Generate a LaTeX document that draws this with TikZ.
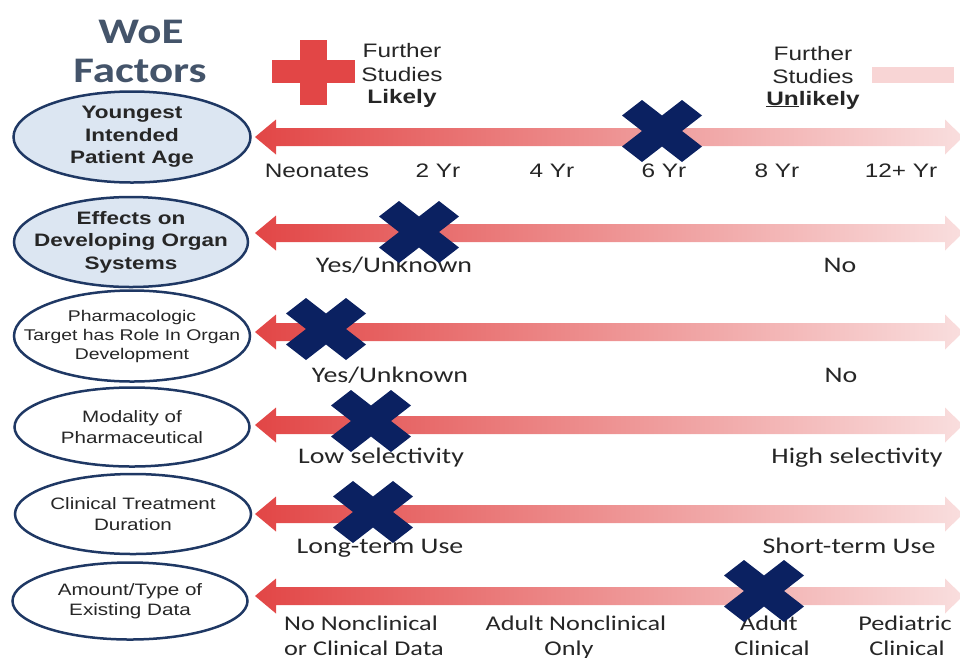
\documentclass[tikz,border=0pt]{standalone}
\usepackage{fontspec}
\setmainfont{Liberation Sans}[FakeStretch=1.25]
\newfontfamily\calib{Carlito}[FakeStretch=1.25]
\usetikzlibrary{shapes.geometric}

\definecolor{navy}{HTML}{1F3864}
\definecolor{crossblue}{HTML}{0B2161}
\definecolor{paleblue}{HTML}{DCE6F2}
\definecolor{arrowred}{HTML}{E24646}
\definecolor{arrowpale}{HTML}{F9DEDE}
\definecolor{legendpale}{HTML}{F8D5D5}
\definecolor{titlegray}{HTML}{44546A}
\definecolor{ink}{HTML}{262626}

\tikzset{
  factor/.style={ellipse, draw=navy, line width=2.5pt, inner sep=0pt},
  keyfactor/.style={factor, fill=paleblue},
  minorfactor/.style={factor, fill=white},
  keytext/.style={align=center, inner sep=0pt, text=ink,
    font=\fontsize{18}{22.5}\selectfont\bfseries},
  minortext/.style={align=center, inner sep=0pt, text=ink,
    font=\fontsize{16.5}{20.5}\selectfont},
  agelabel/.style={anchor=base, inner sep=0pt, text=ink,
    font=\fontsize{19.5}{23}\selectfont},
  scalelabel/.style={anchor=base, inner sep=0pt, text=ink,
    font=\calib\fontsize{22.3}{26}\selectfont},
  datalabel/.style={scalelabel, font=\calib\fontsize{21}{25}\selectfont},
  legendtext/.style={anchor=base, inner sep=0pt, text=ink,
    font=\fontsize{19.5}{23.5}\selectfont},
  % double-headed scale arrow, red on the left fading to pale on the right
  gradarrow/.pic={
    \shade[left color=arrowred, right color=arrowpale]
      (255,0) -- (276,-17.5) -- (276,-9) -- (945,-9) -- (945,-17.5)
      -- (963,0) -- (945,17.5) -- (945,9) -- (276,9) -- (276,17.5) -- cycle;
  },
  % position marker on a scale
  xcross/.pic={
    \fill[crossblue, xscale=40, yscale=31]
      (0,0.5) -- (0.5,1) -- (1,0.5) -- (0.5,0) -- (1,-0.5) -- (0.5,-1)
      -- (0,-0.5) -- (-0.5,-1) -- (-1,-0.5) -- (-0.5,0) -- (-1,0.5)
      -- (-0.5,1) -- cycle;
  }
}

\begin{document}
\begin{tikzpicture}[x=1pt, y=-1pt]
\useasboundingbox (0,0) rectangle (960,657);
\clip (0,0) rectangle (960,657);

% title
\node[anchor=base, inner sep=0pt, text=titlegray,
  font=\calib\fontsize{36}{40}\selectfont\bfseries] (title1) at (141,43) {WoE};
\node[anchor=base, inner sep=0pt, text=titlegray,
  font=\calib\fontsize{36}{40}\selectfont\bfseries] (title2) at (140,82) {Factors};

% legend: further studies likely
\fill[arrowred] (300,40) rectangle (327,105);
\fill[arrowred] (272,60) rectangle (355,83);
\node[legendtext] (likely1) at (402,57) {Further};
\node[legendtext] (likely2) at (402,81) {Studies};
\node[legendtext, font=\fontsize{19.5}{23.5}\selectfont\bfseries] (likely3) at (402,103) {Likely};

% legend: further studies unlikely
\fill[legendpale] (872,67) rectangle (954,83);
\node[legendtext] (unlikely1) at (813,60) {Further};
\node[legendtext] (unlikely2) at (813,83) {Studies};
\node[legendtext, font=\fontsize{19.5}{23.5}\selectfont\bfseries] (unlikely3) at (813,105) {\underline{Un}likely};

% factors
\node[keyfactor, minimum width=237pt, minimum height=91pt] (f1) at (132,137) {};
\node[keytext] (f1t) at (f1) {Youngest\\Intended\\Patient Age};
\node[keyfactor, minimum width=234pt, minimum height=90pt] (f2) at (131,242) {};
\node[keytext] (f2t) at (f2) {Effects on\\Developing Organ\\Systems};
\node[minorfactor, minimum width=236pt, minimum height=91pt] (f3) at (132,336) {};
\node[minortext, font=\fontsize{15.5}{19}\selectfont] (f3t) at (f3)
  {Pharmacologic\\Target has Role In Organ\\Development};
\node[minorfactor, minimum width=235pt, minimum height=79pt] (f4) at (132,427) {};
\node[minortext] (f4t) at (f4) {Modality of\\Pharmaceutical};
\node[minorfactor, minimum width=236pt, minimum height=80pt] (f5) at (133,514) {};
\node[minortext] (f5t) at (f5) {Clinical Treatment\\Duration};
\node[minorfactor, minimum width=235pt, minimum height=77pt] (f6) at (130,601) {};
\node[minortext] (f6t) at (f6) {Amount/Type of\\Existing Data};

% scales
\pic at (0,137) {gradarrow};
\pic at (0,233) {gradarrow};
\pic at (0,332) {gradarrow};
\pic at (0,425) {gradarrow};
\pic at (0,514) {gradarrow};
\pic at (0,596) {gradarrow};

% scale labels
\node[agelabel] (a0) at (317,177) {Neonates};
\node[agelabel] (a2) at (438,177) {2 Yr};
\node[agelabel] (a4) at (552,177) {4 Yr};
\node[agelabel] (a6) at (664,177) {6 Yr};
\node[agelabel] (a8) at (777,177) {8 Yr};
\node[agelabel] (a12) at (901,177) {12+ Yr};

\node[scalelabel] (s2l) at (394,272) {Yes/Unknown};
\node[scalelabel] (s2r) at (840,272) {No};
\node[scalelabel] (s3l) at (390,382) {Yes/Unknown};
\node[scalelabel] (s3r) at (841,382) {No};
\node[scalelabel] (s4l) at (381,463) {Low selectivity};
\node[scalelabel] (s4r) at (857,463) {High selectivity};
\node[scalelabel] (s5l) at (380,553) {Long-term Use};
\node[scalelabel] (s5r) at (849,553) {Short-term Use};
\node[datalabel] (s6a1) at (361,630) {No Nonclinical};
\node[datalabel] (s6a2) at (364,655) {or Clinical Data};
\node[datalabel] (s6b1) at (576,630) {Adult Nonclinical};
\node[datalabel] (s6b2) at (569,655) {Only};
\node[datalabel] (s6c1) at (769,630) {Adult};
\node[datalabel] (s6c2) at (772,655) {Clinical};
\node[datalabel] (s6d1) at (905,630) {Pediatric};
\node[datalabel] (s6d2) at (907,655) {Clinical};

% markers
\pic at (662,131) {xcross};
\pic at (419,232) {xcross};
\pic at (326,329) {xcross};
\pic at (371,421) {xcross};
\pic at (373,512) {xcross};
\pic at (764,591) {xcross};
\end{tikzpicture}
\end{document}
